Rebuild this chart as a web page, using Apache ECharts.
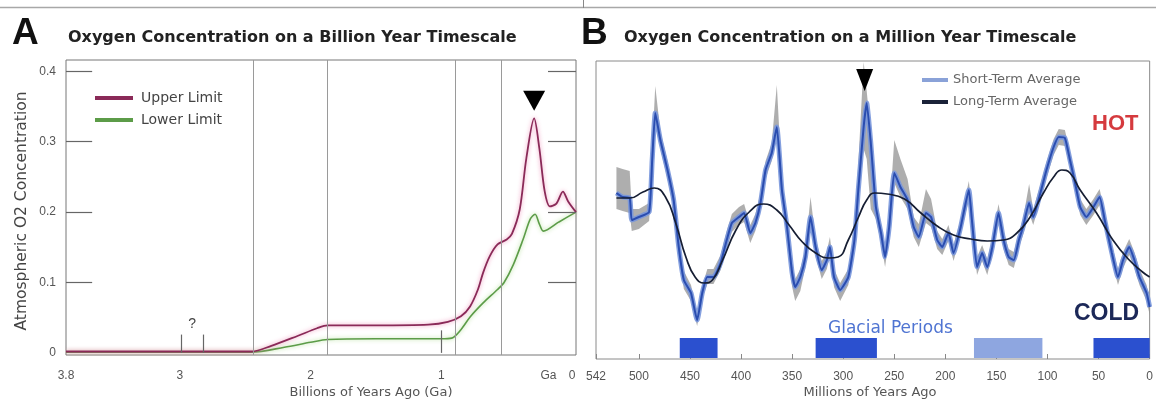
<!DOCTYPE html>
<html>
<head>
<meta charset="utf-8">
<script src="https://cdn.jsdelivr.net/npm/echarts@6/dist/echarts.min.js"></script>
<style>
  html, body { margin: 0; padding: 0; background: #ffffff; }
  #chart { width: 1156px; height: 407px; }
</style>
</head>
<body>
<div id="chart"></div>
<script>
// ---------- Panel A: billion-year record (Ga before present) ----------
const upperGa = [3.87, 2.45, 2.3, 2.1, 1.95, 1.87, 1.5, 1.1, 0.95, 0.85, 0.78, 0.72, 0.68, 0.63, 0.57, 0.50, 0.46, 0.40, 0.35, 0.29, 0.25, 0.21, 0.17, 0.12, 0.07, 0.03, -0.03];
const upperO2 = [0.002, 0.002, 0.010, 0.024, 0.035, 0.039, 0.039, 0.040, 0.044, 0.052, 0.066, 0.090, 0.114, 0.137, 0.154, 0.161, 0.169, 0.204, 0.276, 0.333, 0.290, 0.230, 0.208, 0.212, 0.229, 0.215, 0.200];
const lowerGa = [3.87, 2.45, 2.2, 2.0, 1.87, 1.5, 1.0, 0.92, 0.85, 0.78, 0.68, 0.57, 0.52, 0.45, 0.375, 0.32, 0.283, 0.25, 0.22, 0.10, -0.03];
const lowerO2 = [0.001, 0.001, 0.008, 0.015, 0.019, 0.020, 0.020, 0.021, 0.033, 0.051, 0.071, 0.090, 0.100, 0.125, 0.161, 0.190, 0.197, 0.183, 0.173, 0.186, 0.200];

const gaMin = -0.03;
const gaMax = 3.87;
const gaTicks = [3.87, 3, 2, 1, 0.18, 0];
const gaTickLabels = ['3.8', '3', '2', '1', 'Ga', '0'];
const o2Ticks = [0, 0.1, 0.2, 0.3, 0.4];
const o2FrameTicks = [0.1, 0.2, 0.3, 0.4];
const leftTickToGa = 3.67;
const rightTickFromGa = 0.184;
const eventLinesGa = [2.44, 1.87, 0.885, 0.54];
const shortMarksGa = [2.99, 2.82, 1.0];
const shortMarksTop = [0.026, 0.026, 0.032];
const questionMarkAt = [2.905, 0.041];
const peakMarkerA = [0.29, 0.358];

// ---------- Panel B: Phanerozoic record (Ma before present), relative scale ----------
const stMa = [522, 516, 509, 507, 500, 490, 487, 484, 479, 472, 466, 461, 456, 449, 443, 438, 433, 427, 420, 414, 409, 402, 397, 391, 386, 381, 376, 370, 365, 360, 355, 350, 347, 342, 337, 332, 327, 321, 316, 313, 309, 303, 295, 289, 285, 280, 277, 273, 268, 263, 259, 255, 250, 244, 237, 231, 226, 219, 214, 208, 203, 197, 192, 185, 177, 174, 169, 164, 159, 154, 148, 143, 138, 133, 128, 124, 118, 114, 107, 101, 94, 89, 83, 78, 73, 68, 62, 55, 49, 44, 37, 31, 26, 20, 15, 10, 3, 0];
const stValue = [166, 162, 161, 139, 142, 147, 199, 246, 219, 189, 159, 112, 79, 66, 39, 66, 82, 82, 96, 119, 136, 142, 146, 126, 136, 156, 189, 206, 232, 169, 132, 86, 72, 82, 102, 142, 112, 89, 99, 112, 82, 69, 82, 119, 172, 232, 256, 216, 152, 126, 102, 132, 186, 172, 159, 132, 122, 146, 142, 119, 112, 126, 106, 132, 169, 139, 92, 106, 92, 112, 146, 119, 102, 99, 119, 132, 156, 142, 166, 189, 212, 222, 221, 199, 176, 152, 142, 152, 162, 139, 106, 82, 99, 112, 99, 82, 66, 52];
const stBandHigh = [192, 190, 188, 150, 150, 156, 210, 273, 228, 198, 168, 120, 88, 74, 46, 73, 90, 90, 104, 128, 145, 152, 155, 134, 145, 166, 198, 216, 274, 180, 142, 96, 80, 90, 110, 162, 120, 98, 108, 122, 90, 76, 90, 130, 200, 297, 268, 225, 162, 136, 112, 142, 219, 200, 180, 142, 135, 170, 160, 128, 120, 134, 114, 140, 178, 148, 102, 114, 100, 120, 155, 128, 110, 107, 127, 140, 175, 150, 174, 197, 220, 230, 229, 207, 184, 160, 150, 160, 170, 147, 114, 90, 107, 120, 107, 90, 74, 60];
const stBandLow = [150, 148, 146, 128, 130, 138, 188, 236, 210, 180, 150, 104, 70, 58, 33, 60, 75, 75, 89, 110, 127, 134, 137, 116, 128, 148, 180, 198, 222, 160, 122, 72, 58, 68, 92, 132, 102, 80, 90, 104, 72, 58, 74, 110, 160, 210, 200, 150, 140, 116, 92, 122, 176, 162, 150, 122, 112, 136, 132, 110, 104, 118, 98, 124, 160, 130, 84, 98, 84, 104, 137, 110, 94, 91, 111, 124, 146, 134, 158, 181, 204, 214, 213, 191, 168, 144, 134, 144, 154, 131, 98, 74, 91, 104, 91, 74, 58, 44];

const ltMa = [522, 509, 496, 485, 474, 464, 454, 445, 436, 428, 418, 405, 392, 378, 365, 353, 340, 327, 314, 305, 295, 285, 277, 269, 257, 240, 224, 208, 192, 175, 159, 143, 130, 117, 104, 94, 86, 78, 68, 52, 36, 20, 7, 0];
const ltValue = [161, 161, 167, 171, 162, 136, 102, 82, 76, 79, 99, 129, 147, 155, 149, 134, 117, 106, 101, 102, 119, 142, 159, 166, 165, 160, 146, 133, 124, 120, 118, 119, 126, 142, 166, 182, 189, 186, 169, 146, 119, 99, 87, 82];

const maTicks = [542, 500, 450, 400, 350, 300, 250, 200, 150, 100, 50, 0];
const glacialStart = [460, 327, 172, 55];
const glacialEnd = [423, 267, 105, 0];
const glacialShade = ['#2b50cf', '#2b50cf', '#8ea6e0', '#2b50cf'];
const glacialBandBottom = 1;
const glacialBandTop = 21;
const peakMarkerB = [279, 279];

// ---------- assembled series data ----------
const zip = (a, b) => a.map((v, i) => [v, b[i]]);
const upperData = zip(upperGa, upperO2);
const lowerData = zip(lowerGa, lowerO2);
const stData = zip(stMa, stValue);
const ltData = zip(ltMa, ltValue);

// inner tick marks on both vertical frame edges of panel A
const frameTickSegments = o2FrameTicks.map(v => [{ coord: [gaMax, v] }, { coord: [leftTickToGa, v] }])
  .concat(o2FrameTicks.map(v => [{ coord: [rightTickFromGa, v] }, { coord: [gaMin, v] }]));
const shortMarkSegments = shortMarksGa.map((g, i) => [{ coord: [g, 0] }, { coord: [g, shortMarksTop[i]] }]);

const chart = echarts.init(document.getElementById('chart'), null, { renderer: 'canvas' });
const FONT = '"Liberation Sans", Arial, sans-serif';
const WIDE = '"DejaVu Sans", Verdana, sans-serif';
const axisGray = '#555';

const option = {
  animation: false,
  backgroundColor: '#ffffff',
  grid: [
    { left: 66, top: 60, width: 510, height: 295, show: true, borderColor: '#777', borderWidth: 1, backgroundColor: 'transparent' },
    { left: 596, top: 61, width: 556, height: 298, show: true, borderColor: '#8a8a8a', borderWidth: 1, backgroundColor: 'transparent' }
  ],
  xAxis: [
    {
      gridIndex: 0, type: 'value', min: gaMin, max: gaMax, inverse: true,
      axisLine: { show: false }, splitLine: { show: false },
      axisTick: { show: false },
      axisLabel: {
        customValues: gaTicks, margin: 15, color: axisGray, fontFamily: FONT, fontSize: 12,
        formatter: v => gaTickLabels[gaTicks.indexOf(v)]
      }
    },
    {
      gridIndex: 1, type: 'value', min: 0, max: 542, inverse: true,
      axisLine: { show: false }, splitLine: { show: false },
      axisTick: { show: true, inside: true, length: 5, customValues: maTicks, lineStyle: { color: '#888' } },
      axisLabel: { customValues: maTicks, margin: 12, color: axisGray, fontFamily: FONT, fontSize: 12 }
    }
  ],
  yAxis: [
    {
      gridIndex: 0, type: 'value', min: -0.003, max: 0.416,
      axisLine: { show: false }, splitLine: { show: false },
      axisTick: { show: false },
      axisLabel: { customValues: o2Ticks, margin: 10, color: axisGray, fontFamily: FONT, fontSize: 12 }
    },
    {
      gridIndex: 1, type: 'value', min: 0, max: 298,
      show: false
    }
  ],
  legend: [
    {
      left: 90, top: 86, orient: 'vertical', itemWidth: 38, itemHeight: 4, itemGap: 8, icon: 'rect',
      textStyle: { color: '#444', fontFamily: WIDE, fontSize: 14, lineHeight: 14, padding: [0, 0, 0, 3] },
      data: [
        { name: 'Upper Limit', itemStyle: { color: '#8a2a58' } },
        { name: 'Lower Limit', itemStyle: { color: '#5c9c48' } }
      ]
    },
    {
      left: 917, top: 68, orient: 'vertical', itemWidth: 26, itemHeight: 4, itemGap: 8, icon: 'rect',
      textStyle: { color: '#666', fontFamily: WIDE, fontSize: 13, lineHeight: 14 },
      data: [
        { name: 'Short-Term Average', itemStyle: { color: '#8aa2d8' } },
        { name: 'Long-Term Average', itemStyle: { color: '#1a2238' } }
      ]
    }
  ],
  series: [
    {
      name: 'Upper Limit', type: 'line', xAxisIndex: 0, yAxisIndex: 0, data: upperData,
      smooth: 0.3, showSymbol: false, z: 4,
      lineStyle: { color: '#8a2a58', width: 1.8, shadowColor: 'rgba(235,120,170,0.8)', shadowBlur: 4 },
      itemStyle: { color: '#8a2a58' },
      markLine: {
        silent: true, symbol: ['none', 'none'], label: { show: false },
        lineStyle: { color: '#9a9a9a', width: 1, type: 'solid' },
        data: eventLinesGa.map(g => ({ xAxis: g }))
      },
      markPoint: {
        silent: true,
        data: [{ coord: peakMarkerA, symbol: 'triangle', symbolRotate: 180, symbolSize: [22, 20], itemStyle: { color: '#000' } }],
        label: { show: false }
      }
    },
    {
      name: 'Lower Limit', type: 'line', xAxisIndex: 0, yAxisIndex: 0, data: lowerData,
      smooth: 0.3, showSymbol: false, z: 3,
      lineStyle: { color: '#5c9c48', width: 1.6, shadowColor: 'rgba(170,220,140,0.9)', shadowBlur: 4 },
      itemStyle: { color: '#5c9c48' },
      markLine: {
        silent: true, symbol: ['none', 'none'], label: { show: false },
        lineStyle: { color: '#666', width: 1.2, type: 'solid' },
        data: shortMarkSegments.concat(frameTickSegments)
      },
      markPoint: {
        silent: true,
        data: [{ coord: questionMarkAt, symbol: 'circle', symbolSize: 0,
          label: { show: true, formatter: '?', color: '#444', fontFamily: FONT, fontSize: 14, position: 'inside' } }]
      }
    },
    {
      name: 'band', type: 'custom', xAxisIndex: 1, yAxisIndex: 1, data: [[0, 0]], silent: true, z: 1,
      clip: true,
      renderItem: function (params, api) {
        const pts = [];
        for (let i = 0; i < stMa.length; i++) pts.push(api.coord([stMa[i], stBandHigh[i]]));
        for (let i = stMa.length - 1; i >= 0; i--) pts.push(api.coord([stMa[i], stBandLow[i]]));
        return { type: 'polygon', shape: { points: pts }, style: { fill: 'rgba(140,140,140,0.7)', stroke: null } };
      }
    },
    {
      name: 'Short-Term halo', type: 'line', xAxisIndex: 1, yAxisIndex: 1, data: stData,
      showSymbol: false, silent: true, z: 2, smooth: 0.15,
      lineStyle: { color: '#7896dc', width: 5, opacity: 0.9 }
    },
    {
      name: 'Short-Term Average', type: 'line', xAxisIndex: 1, yAxisIndex: 1, data: stData,
      showSymbol: false, silent: true, z: 3, smooth: 0.15,
      lineStyle: { color: '#2a4db0', width: 2 },
      itemStyle: { color: '#8aa2d8' }
    },
    {
      name: 'Long-Term Average', type: 'line', xAxisIndex: 1, yAxisIndex: 1, data: ltData,
      smooth: 0.5, showSymbol: false, silent: true, z: 4,
      lineStyle: { color: '#161e33', width: 1.7 },
      itemStyle: { color: '#1a2238' },
      markArea: {
        silent: true,
        data: glacialStart.map((s, i) => [
          { xAxis: s, yAxis: glacialBandBottom, itemStyle: { color: glacialShade[i] } },
          { xAxis: glacialEnd[i], yAxis: glacialBandTop }
        ])
      },
      markPoint: {
        silent: true,
        data: [{ coord: peakMarkerB, symbol: 'triangle', symbolRotate: 180, symbolSize: [17, 22], itemStyle: { color: '#000' } }],
        label: { show: false }
      }
    }
  ],
  graphic: [
    { type: 'line', shape: { x1: 0, y1: 7.5, x2: 1156, y2: 7.5 }, style: { stroke: '#a8a8a8', lineWidth: 1.5 } },
    { type: 'line', shape: { x1: 583.5, y1: 0, x2: 583.5, y2: 8 }, style: { stroke: '#888', lineWidth: 1 } },
    { type: 'text', x: 12, y: 34, style: { text: 'A', font: 'bold 37px ' + FONT, fill: '#111', verticalAlign: 'middle' } },
    { type: 'text', x: 68, y: 38, style: { text: 'Oxygen Concentration on a Billion Year Timescale', font: 'bold 16px ' + WIDE, fill: '#222', verticalAlign: 'middle' } },
    { type: 'text', x: 581, y: 34, style: { text: 'B', font: 'bold 37px ' + FONT, fill: '#111', verticalAlign: 'middle' } },
    { type: 'text', x: 624, y: 38, style: { text: 'Oxygen Concentration on a Million Year Timescale', font: 'bold 16px ' + WIDE, fill: '#222', verticalAlign: 'middle' } },
    { type: 'text', x: 22, y: 211, rotation: Math.PI / 2, style: { text: 'Atmospheric O2 Concentration', font: '15.5px ' + WIDE, fill: '#444', align: 'center', verticalAlign: 'middle' } },
    { type: 'text', x: 371, y: 393, style: { text: 'Billions of Years Ago (Ga)', font: '13px ' + WIDE, fill: '#555', align: 'center', verticalAlign: 'middle' } },
    { type: 'text', x: 870, y: 393, style: { text: 'Millions of Years Ago', font: '13px ' + WIDE, fill: '#555', align: 'center', verticalAlign: 'middle' } },
    { type: 'text', x: 1092, y: 124, style: { text: 'HOT', font: 'bold 22px ' + FONT, fill: '#d53a3e', verticalAlign: 'middle' } },
    { type: 'text', x: 1074, y: 314, style: { text: 'COLD', font: 'bold 23px ' + FONT, fill: '#1c2858', verticalAlign: 'middle' } },
    { type: 'text', x: 828, y: 329, style: { text: 'Glacial Periods', font: '17px ' + WIDE, fill: '#4f74d2', verticalAlign: 'middle' } }
  ]
};

chart.setOption(option);
</script>
</body>
</html>
